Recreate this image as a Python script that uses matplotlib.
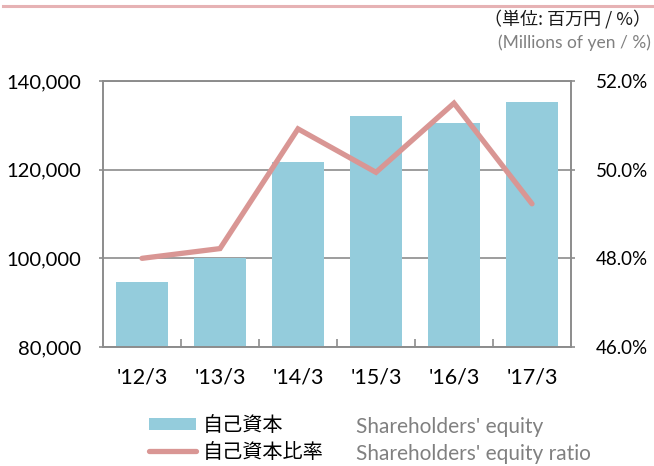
import matplotlib
matplotlib.use("Agg")
import matplotlib.pyplot as plt
from matplotlib.lines import Line2D
from matplotlib.patches import Patch
from matplotlib.ticker import FuncFormatter, MultipleLocator

periods = ["'12/3", "'13/3", "'14/3", "'15/3", "'16/3", "'17/3"]
equity = [94760, 100070, 121730, 132140, 130560, 135210]      # millions of yen
equity_ratio = [48.0, 48.22, 50.92, 49.94, 51.50, 49.23]      # %

BAR = "#94ccdc"
LINE = "#d99694"
GRID = "#8c8c8c"
LATIN = ["Lato", "Noto Sans CJK JP", "DejaVu Sans"]
JP = ["Noto Sans CJK JP", "DejaVu Sans"]

plt.rcParams["font.family"] = LATIN

fig = plt.figure(figsize=(6.54, 4.66), dpi=100)
ax = fig.add_axes([103 / 654, 1 - 347 / 466, 468 / 654, 266 / 466])

x = range(len(periods))
ax.bar(x, equity, width=0.67, color=BAR, zorder=2)
ax.set_xlim(-0.5, len(periods) - 0.5)
ax.set_ylim(80000, 140000)
ax.yaxis.set_major_locator(MultipleLocator(20000))
ax.yaxis.set_major_formatter(FuncFormatter(lambda v, p: f"{v:,.0f}"))
ax.set_axisbelow(True)
ax.grid(axis="y", color=GRID, linewidth=1.2)

ax.set_xticks(list(x))
ax.set_xticklabels(periods)
ax.set_xticks([i + 0.5 for i in range(len(periods) - 1)], minor=True)
ax.tick_params(axis="x", which="major", length=0, pad=15, labelsize=15.5)
ax.tick_params(axis="x", which="minor", direction="in", length=6, color=GRID, width=1.2)
ax.tick_params(axis="y", length=3, color=GRID, width=1.2, pad=13, labelsize=14.5)

for s in ax.spines.values():
    s.set_color(GRID)
    s.set_linewidth(1.2)

ax2 = ax.twinx()
ax2.plot(x, equity_ratio, color=LINE, linewidth=3.8, solid_capstyle="round",
         solid_joinstyle="miter", zorder=3)
ax2.set_ylim(46, 52)
ax2.yaxis.set_major_locator(MultipleLocator(2))
ax2.yaxis.set_major_formatter(FuncFormatter(lambda v, p: f"{v:.1f}%"))
ax2.tick_params(axis="y", length=3, color=GRID, width=1.2, pad=15, labelsize=13.5)
for s in ax2.spines.values():
    s.set_color(GRID)
    s.set_linewidth(1.2)

# header rule and unit notes
fig.add_artist(Line2D([3 / 654, 1], [1 - 5.5 / 466] * 2, color="#e6b2b4", linewidth=2.2))
fig.text(651 / 654, 1 - 19 / 466, "（単位: 百万円 / %）", ha="right", va="center",
         fontsize=13, family=JP, color="#1a1a1a")
fig.text(651 / 654, 1 - 43 / 466, "(Millions of yen / %)", ha="right", va="center",
         fontsize=12.5, color="#808080")

handles = [Patch(facecolor=BAR, edgecolor="none"),
           Line2D([], [], color=LINE, linewidth=3.8, solid_capstyle="round")]
leg = fig.legend(handles, ["自己資本", "自己資本比率"], loc="upper left",
                 bbox_to_anchor=(149 / 654, 1 - 415 / 466), frameon=False,
                 borderpad=0, borderaxespad=0, handlelength=2.35, handleheight=0.6,
                 handletextpad=0.3, labelspacing=0.3, prop={"family": JP, "size": 14.5})

fig.text(356 / 654, 1 - 427 / 466, "Shareholders' equity", ha="left", va="center",
         fontsize=15, color="#808080")
fig.text(356 / 654, 1 - 454 / 466, "Shareholders' equity ratio", ha="left", va="center",
         fontsize=15, color="#808080")

fig.savefig("out.png", dpi=100)
